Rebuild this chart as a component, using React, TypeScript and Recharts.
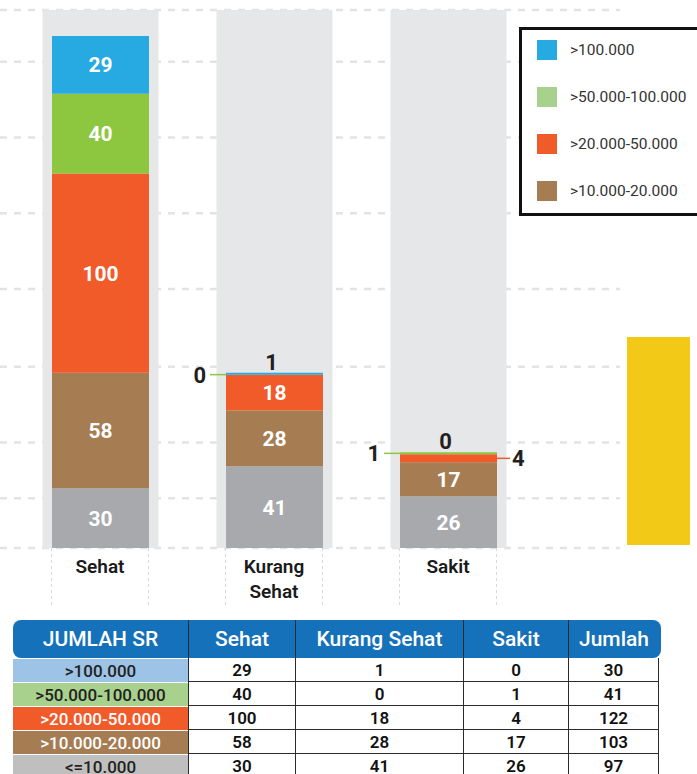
import { BarChart, Bar, XAxis, YAxis, CartesianGrid, Legend, LabelList } from 'recharts';

const categories = ['Sehat', 'Kurang Sehat', 'Sakit'];
const above100k = [29, 1, 0];
const from50kTo100k = [40, 0, 1];
const from20kTo50k = [100, 18, 4];
const from10kTo20k = [58, 28, 17];
const upTo10k = [30, 41, 26];
const gridTicks = [25, 53, 91, 130, 168, 206, 244];

// top-to-bottom order as in the legend and the table
const seriesKeys = ['above100k', 'from50kTo100k', 'from20kTo50k', 'from10kTo20k', 'upTo10k'];
const seriesNames: Record<string, string> = {
  above100k: '>100.000',
  from50kTo100k: '>50.000-100.000',
  from20kTo50k: '>20.000-50.000',
  from10kTo20k: '>10.000-20.000',
  upTo10k: '<=10.000',
};
const seriesValues: Record<string, number[]> = {
  above100k,
  from50kTo100k,
  from20kTo50k,
  from10kTo20k,
  upTo10k,
};

const BAR_COLORS: Record<string, string> = {
  above100k: '#27aae1',
  from50kTo100k: '#8dc63f',
  from20kTo50k: '#f15a29',
  from10kTo20k: '#a67c52',
  upTo10k: '#a7a9ac',
};
const SWATCH_COLORS: Record<string, string> = {
  above100k: '#9dc3e6',
  from50kTo100k: '#a9d18e',
  from20kTo50k: '#f15a29',
  from10kTo20k: '#a67c52',
  upTo10k: '#bfbfbf',
};
const LEGEND_COLORS: Record<string, string> = {
  above100k: '#27aae1',
  from50kTo100k: '#a9d18e',
  from20kTo50k: '#f15a29',
  from10kTo20k: '#a67c52',
};
const SWATCH_TEXT: Record<string, string> = {
  above100k: '#231f20',
  from50kTo100k: '#231f20',
  from20kTo50k: '#ffffff',
  from10kTo20k: '#ffffff',
  upTo10k: '#231f20',
};
// where a label goes when its segment is too thin
const OUTSIDE: Record<string, 'top' | 'left' | 'right'> = {
  above100k: 'top',
  from50kTo100k: 'left',
  from20kTo50k: 'right',
  from10kTo20k: 'right',
  upTo10k: 'right',
};

const BAR = 97;
const FONT = 'Roboto, "Noto Sans", sans-serif';
const X_PADDING = { left: 13, right: 85 };

const data = categories.map((name, i) => {
  const row: Record<string, string | number> = { name };
  seriesKeys.forEach((k) => (row[k] = seriesValues[k][i]));
  return row;
});

const stackOrder = [...seriesKeys].reverse();

const columnBackground = (props: any) => (
  <rect x={props.x - 9.5} y={props.y} width={props.width + 19} height={props.height} fill="#e6e7e8" />
);

const segmentLabel = (key: string, x: number, y: number, width: number, height: number, value: number) => {
  const cx = x + width / 2;
  const my = y + height / 2;
  if (height >= 20) {
    return (
      <text key={key} x={cx} y={my} dy="0.36em" textAnchor="middle" fill="#fff" fontSize={21} fontWeight={700}>
        {value}
      </text>
    );
  }
  const side = OUTSIDE[key];
  const txt = { fill: '#231f20', fontSize: 22, fontWeight: 700 } as const;
  if (side === 'top') {
    return (
      <text key={key} x={cx - 3} y={y - 3} textAnchor="middle" {...txt}>
        {value}
      </text>
    );
  }
  if (side === 'left') {
    return (
      <g key={key}>
        <line x1={x - 16} x2={x} y1={my} y2={my} stroke={BAR_COLORS[key]} strokeWidth={1.5} />
        <text x={x - 20} y={my} dy="0.36em" textAnchor="end" {...txt}>
          {value}
        </text>
      </g>
    );
  }
  return (
    <g key={key}>
      <line x1={x + width} x2={x + width + 13} y1={my} y2={my} stroke={BAR_COLORS[key]} strokeWidth={1.5} />
      <text x={x + width + 15} y={my} dy="0.36em" textAnchor="start" {...txt}>
        {value}
      </text>
    </g>
  );
};

// the bottom segment gives the scale of its column; every segment of that stack is labelled from it
const stackLabels = (props: any) => {
  const { x, y, width, height, value, index } = props;
  if (!value) return null;
  const row = data[index];
  const unit = height / value;
  const base = y + height;
  let cum = 0;
  const labels = stackOrder.map((k) => {
    const v = row[k] as number;
    const top = base - (cum + v) * unit;
    cum += v;
    return segmentLabel(k, x, top, width, v * unit, v);
  });
  return <g>{labels}</g>;
};

const CategoryTick = (props: any) => {
  const { x, y, payload } = props;
  const words = String(payload.value).split(' ');
  return (
    <g>
      <line x1={x - BAR / 2} x2={x - BAR / 2} y1={y} y2={y + 60} stroke="#d9d9d9" strokeDasharray="3 3" />
      <line x1={x + BAR / 2} x2={x + BAR / 2} y1={y} y2={y + 60} stroke="#d9d9d9" strokeDasharray="3 3" />
      <text x={x} y={y} textAnchor="middle" fontSize={19} fontWeight={600} fill="#1a1a1a">
        {words.map((w, i) => (
          <tspan key={i} x={x} dy={25}>
            {w}
          </tspan>
        ))}
      </text>
    </g>
  );
};

const LegendBox = (props: any) => {
  const items = [...(props.payload ?? [])]
    .filter((p: any) => LEGEND_COLORS[p.dataKey])
    .sort((a: any, b: any) => seriesKeys.indexOf(a.dataKey) - seriesKeys.indexOf(b.dataKey));
  return (
    <div
      style={{
        width: 178,
        height: 183,
        border: '3px solid #111',
        background: '#fff',
        boxSizing: 'content-box',
      }}
    >
      {items.map((p: any, i: number) => (
        <div
          key={p.dataKey}
          style={{ display: 'flex', alignItems: 'center', height: 47, marginLeft: 15, marginTop: i === 0 ? -4 : 0 }}
        >
          <span style={{ width: 20, height: 20, background: LEGEND_COLORS[p.dataKey], display: 'inline-block' }} />
          <span style={{ marginLeft: 13, fontSize: 15.5, color: '#333', fontFamily: FONT }}>{p.value}</span>
        </div>
      ))}
    </div>
  );
};

const columns = [
  { title: 'JUMLAH SR', width: 175 },
  { title: 'Sehat', width: 107 },
  { title: 'Kurang Sehat', width: 168 },
  { title: 'Sakit', width: 105 },
  { title: 'Jumlah', width: 91 },
];

function SummaryTable() {
  const line = '1.5px solid #2b2b2b';
  return (
    <div style={{ position: 'absolute', left: 13, top: 620, width: 648, fontFamily: FONT }}>
      <div
        style={{
          display: 'flex',
          height: 38,
          background: '#1571ba',
          borderRadius: 8,
          color: '#fff',
          fontSize: 21,
          fontWeight: 500,
        }}
      >
        {columns.map((c, i) => (
          <div
            key={c.title}
            style={{
              width: c.width,
              display: 'flex',
              alignItems: 'center',
              justifyContent: 'center',
              borderLeft: i > 0 ? line : 'none',
              boxSizing: 'border-box',
            }}
          >
            {c.title}
          </div>
        ))}
      </div>
      {seriesKeys.map((k) => {
        const vals = seriesValues[k];
        const total = vals.reduce((a, b) => a + b, 0);
        const cells = [...vals, total];
        return (
          <div key={k} style={{ display: 'flex', height: 24 }}>
            <div
              style={{
                width: columns[0].width,
                background: SWATCH_COLORS[k],
                color: SWATCH_TEXT[k],
                fontSize: 17,
                fontWeight: 500,
                display: 'flex',
                alignItems: 'center',
                justifyContent: 'center',
                borderTop: '1.5px solid #fff',
                boxSizing: 'border-box',
              }}
            >
              {seriesNames[k]}
            </div>
            {cells.map((v, j) => (
              <div
                key={j}
                style={{
                  width: columns[j + 1].width,
                  display: 'flex',
                  alignItems: 'center',
                  justifyContent: 'center',
                  borderLeft: line,
                  borderRight: j === cells.length - 1 ? line : 'none',
                  borderBottom: line,
                  boxSizing: 'border-box',
                  fontSize: 17,
                  fontWeight: 600,
                  color: '#111',
                }}
              >
                {v}
              </div>
            ))}
          </div>
        );
      })}
    </div>
  );
}

export default function App() {
  return (
    <div
      style={{
        position: 'absolute',
        left: 0,
        top: 0,
        width: 697,
        height: 774,
        overflow: 'hidden',
        background: '#fff',
        fontFamily: FONT,
      }}
    >
      <BarChart width={697} height={620} data={data} margin={{ top: 10, right: 77, left: 0, bottom: 10 }}>
        <CartesianGrid vertical={false} stroke="#e3e3e3" strokeWidth={2.5} strokeDasharray="7 7" />
        <XAxis
          dataKey="name"
          padding={X_PADDING}
          height={62}
          axisLine={false}
          tickLine={false}
          tickSize={0}
          tickMargin={0}
          interval={0}
          tick={<CategoryTick />}
        />
        {/* same band scale, only carries the label layer above all the stacks */}
        <XAxis xAxisId="labels" dataKey="name" padding={X_PADDING} hide />
        <YAxis hide type="number" domain={[0, 270]} ticks={gridTicks} allowDataOverflow />
        <Legend
          layout="vertical"
          align="center"
          verticalAlign="middle"
          content={<LegendBox />}
          wrapperStyle={{ top: 27, left: 519, width: 190 }}
        />
        {stackOrder.map((k, i) => (
          <Bar
            key={k}
            dataKey={k}
            name={seriesNames[k]}
            stackId="a"
            barSize={BAR}
            fill={BAR_COLORS[k]}
            legendType={k === 'upTo10k' ? 'none' : 'square'}
            background={i === 0 ? columnBackground : undefined}
            isAnimationActive={false}
          />
        ))}
        <Bar
          xAxisId="labels"
          dataKey="upTo10k"
          barSize={BAR}
          fill="none"
          legendType="none"
          isAnimationActive={false}
        >
          <LabelList dataKey="upTo10k" content={stackLabels} />
        </Bar>
      </BarChart>
      <div style={{ position: 'absolute', left: 627, top: 337, width: 63, height: 208, background: '#f2c916' }} />
      <SummaryTable />
    </div>
  );
}
